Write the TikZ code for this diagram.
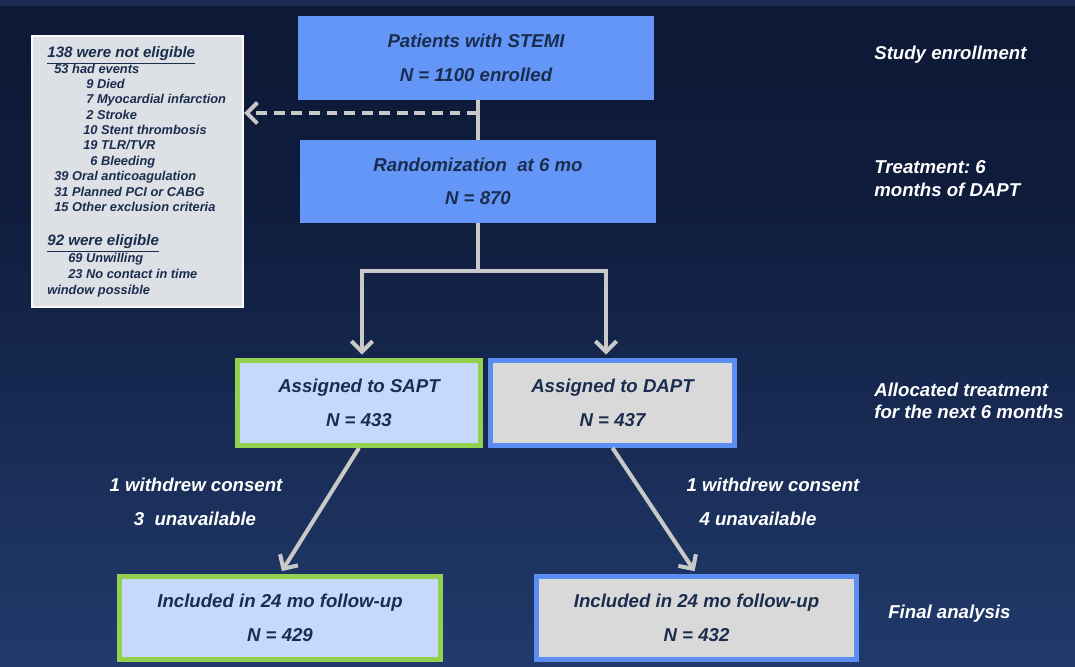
\documentclass[tikz,border=0pt]{standalone}
\usepackage{fontspec}
\setmainfont{Liberation Sans}
\usetikzlibrary{arrows.meta,positioning}

\definecolor{bgtop}{HTML}{0B1631}
\definecolor{bgupper}{HTML}{0F1C3C}
\definecolor{bgmid}{HTML}{1C325E}
\definecolor{bgbot}{HTML}{2E4E8E}
\definecolor{bgstrip}{HTML}{1A2C52}
\definecolor{boxblue}{HTML}{6496F7}
\definecolor{boxlight}{HTML}{C6D8FB}
\definecolor{boxgray}{HTML}{D9D9D9}
\definecolor{notegray}{HTML}{DDE0E4}
\definecolor{edgegreen}{HTML}{92D050}
\definecolor{edgeblue}{HTML}{5B8DF3}
\definecolor{inknavy}{HTML}{1B2D4F}
\definecolor{linegray}{HTML}{C8C8C8}

\pgfdeclareverticalshading{slidebg}{100bp}{color(0bp)=(bgbot); color(35bp)=(bgmid); color(60bp)=(bgupper); color(85bp)=(bgtop); color(100bp)=(bgtop)}

\newcommand{\flowfont}{\fontsize{10.6}{19}\selectfont\bfseries\itshape}
\newcommand{\sidefont}{\fontsize{10.6}{12.8}\selectfont\bfseries\itshape}
\newcommand{\notefont}{\fontsize{7.3}{8.6}\selectfont\bfseries\itshape}
\newcommand{\headfont}{\fontsize{8.6}{10}\selectfont\bfseries\itshape}
\frenchspacing

\begin{document}
\begin{tikzpicture}[x=0.02cm, y=-0.02cm,
    flow/.style={rectangle, inner sep=0pt, align=center, text=inknavy, font=\flowfont},
    bluebox/.style={flow, fill=boxblue, minimum width=7.12cm},
    saptbox/.style={flow, fill=boxlight, draw=edgegreen, line width=3pt},
    daptbox/.style={flow, fill=boxgray, draw=edgeblue, line width=3pt},
    side/.style={anchor=west, inner sep=0pt, align=left, text=white, font=\sidefont},
    loss/.style={inner sep=0pt, text=white, font=\sidefont},
    note/.style={anchor=base west, inner sep=0pt, text=inknavy, font=\notefont},
    conn/.style={draw=linegray, line width=2.3pt},
    flowarrow/.style={conn, shorten >=2pt, -{Straight Barb[length=6pt, width=12pt]}}]
    \useasboundingbox (0,0) rectangle (1075,666);

    % background
    \shade[shading=slidebg] (0,0) rectangle (1075,666);
    \fill[bgstrip] (0,0) rectangle (1075,6);

    % boxes
    \node[bluebox, minimum height=1.68cm] (enroll) at (476,58) {Patients with STEMI\\N = 1100 enrolled};
    \node[bluebox, minimum height=1.66cm] (rando) at (478,181.5) {Randomization\ \ at 6 mo\\N = 870};
    \node[saptbox, minimum width=4.85cm, minimum height=1.69cm] (sapt) at (359,403) {Assigned to SAPT\\N = 433};
    \node[daptbox, minimum width=4.87cm, minimum height=1.69cm] (dapt) at (612.5,403) {Assigned to DAPT\\N = 437};
    \node[saptbox, minimum width=6.41cm, minimum height=1.65cm] (follows) at (280,618) {Included in 24 mo follow-up\\N = 429};
    \node[daptbox, minimum width=6.41cm, minimum height=1.65cm] (followd) at (696.5,618) {Included in 24 mo follow-up\\N = 432};

    % excluded patients
    \node[rectangle, fill=notegray, draw=white!95!gray, line width=1.2pt,
          minimum width=4.22cm, minimum height=5.42cm] (excluded) at (137.5,171.5) {};
    \node[note, font=\headfont] (hd1) at (47,57.5) {\underline{138 were not eligible}};
    \foreach \x/\y/\t [count=\i] in {54/73.5/{53 had events}, 86/88.5/{9 Died},
        86/103.5/{7 Myocardial infarction}, 86/119.5/{2 Stroke},
        83/134.5/{10 Stent thrombosis}, 83/149.5/{19 TLR/TVR}, 90/165.5/{6 Bleeding},
        54/180.5/{39 Oral anticoagulation}, 54/196.5/{31 Planned PCI or CABG},
        54/211.5/{15 Other exclusion criteria}}
        \node[note] (ne\i) at (\x,\y) {\t};
    \node[note, font=\headfont] (hd2) at (47,245.5) {\underline{92 were eligible}};
    \foreach \x/\y/\t [count=\i] in {68/262.5/{69 Unwilling},
        68/278.5/{23 No contact in time}, 47/294.5/{window possible}}
        \node[note] (el\i) at (\x,\y) {\t};

    % connectors
    \draw[conn] (enroll.south -| rando.north) -- (rando.north);
    \coordinate (excl) at (478,113);
    \draw[conn, dash pattern=on 6.2pt off 3.8pt, -{Straight Barb[length=6pt, width=12pt]}] (excl) -- (excl -| excluded.east);
    \coordinate (fork) at (478,271);
    \coordinate (forkL) at (362,271);
    \coordinate (forkR) at (606,271);
    \draw[conn] (rando.south) -- (fork);
    \draw[flowarrow] (fork) -- (forkL) -- (forkL |- sapt.north);
    \draw[flowarrow] (fork) -- (forkR) -- (forkR |- dapt.north);
    \draw[flowarrow] (sapt.south) -- (follows.north);
    \draw[flowarrow] (dapt.south) -- (followd.north);

    % losses to follow-up
    \node[loss] (wd1) at (196,485) {1 withdrew consent};
    \node[loss] (un1) at (195,519) {3\ \ unavailable};
    \node[loss] (wd2) at (773,485) {1 withdrew consent};
    \node[loss] (un2) at (758,519) {4 unavailable};

    % stage labels
    \node[side] (st1) at (874,55) {Study enrollment};
    \node[side] (st2) at (874,178.5) {Treatment: 6\\months of DAPT};
    \node[side] (st3) at (874,401) {Allocated treatment\\for the next 6 months};
    \node[side] (st4) at (888,614) {Final analysis};
\end{tikzpicture}
\end{document}
